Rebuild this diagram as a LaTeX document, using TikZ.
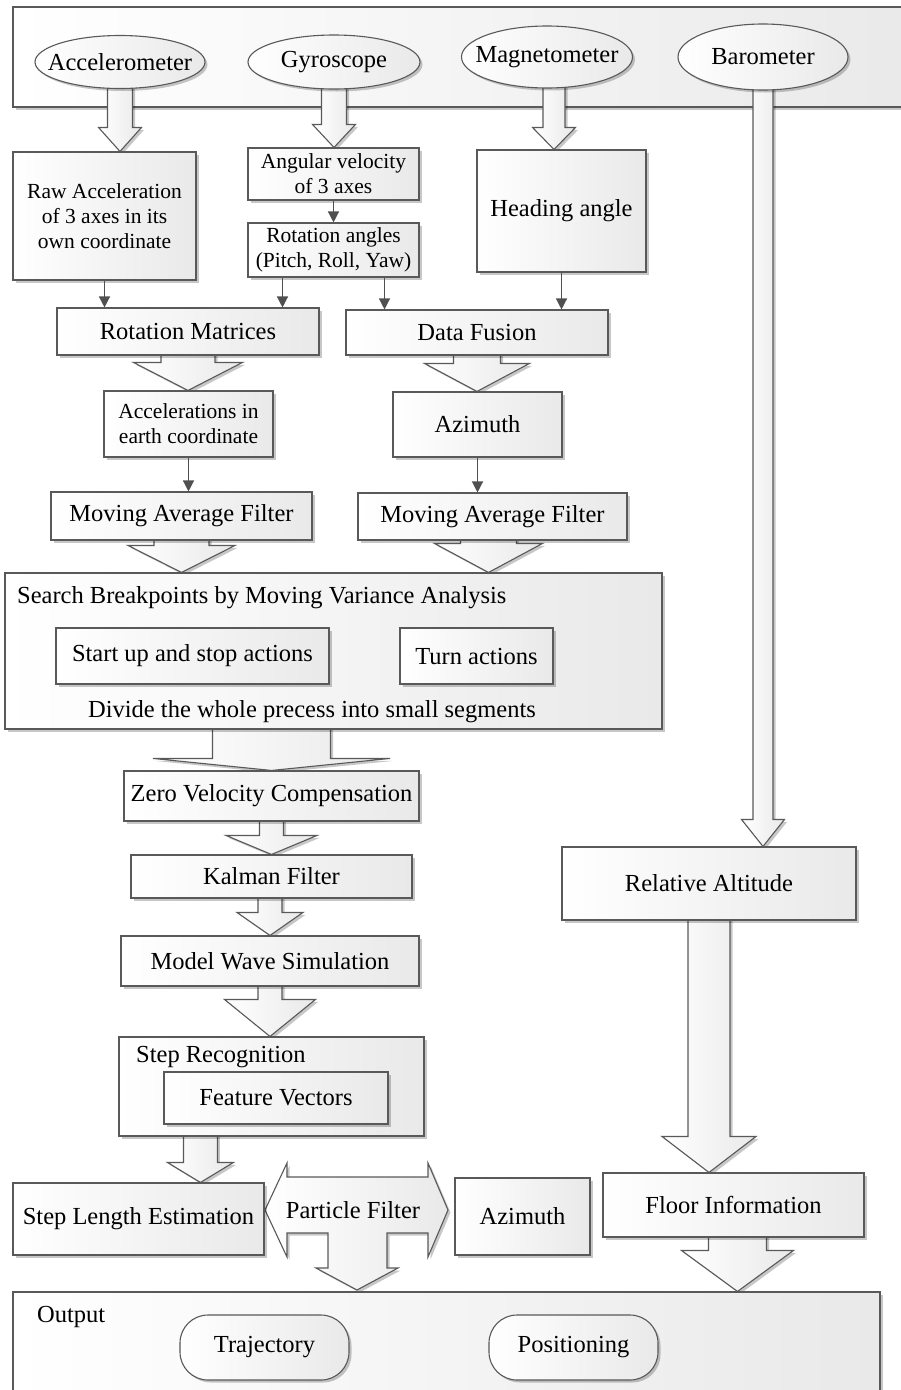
\documentclass[tikz,border=0pt]{standalone}
\usepackage{fontspec}
\setmainfont{Liberation Serif}
\usetikzlibrary{shapes.geometric,shadows,calc,arrows.meta}
\pgfdeclarelayer{bar}
\pgfdeclarelayer{arrows}
\pgfsetlayers{bar,arrows,main}
\definecolor{edgegray}{HTML}{595959}
\definecolor{fillgray}{HTML}{E9E9E9}
\definecolor{linkgray}{HTML}{505050}
\newcommand{\txtL}{\fontsize{24.5}{28}\selectfont}
\newcommand{\txtS}{\fontsize{21.5}{25}\selectfont}
\tikzset{
  panel/.style={draw=edgegray, line width=1.1pt, left color=white, right color=fillgray,
    drop shadow={shadow xshift=2.5pt, shadow yshift=-2.5pt, opacity=0.22, fill=black}},
  box/.style={panel, rectangle, inner sep=0pt, align=center, font=\txtL},
  ell/.style={panel, ellipse, inner sep=0pt},
  pill/.style={panel, rectangle, rounded corners=28pt, inner sep=0pt, font=\txtL},
  fat/.style={panel, line join=miter},
  link/.style={draw=linkgray, line width=1.3pt, -{Triangle[width=11pt,length=11pt]}},
  caption/.style={font=\txtL, inner sep=0pt},
}
% rectangle node given by its two corners: [style]{name}{x1}{y1}{x2}{y2}{text}
\newcommand{\blk}[7][box]{\node[#1, minimum width={#5-#3}, minimum height={#6-#4}] (#2) at ({(#3+#5)/2},{(#4+#6)/2}) {#7};}
% hollow downward block arrow: {from}{tip}{shaft half width}{head half width}{head length}
\newcommand{\fatdown}[5]{%
  \begin{pgfonlayer}{arrows}
  \path[fat] let \p1=(#1), \p2=(#2) in
    (\x2-#3pt,\y1) -- (\x2-#3pt,\y2+#5pt) -- (\x2-#4pt,\y2+#5pt) -- (\x2,\y2)
    -- (\x2+#4pt,\y2+#5pt) -- (\x2+#3pt,\y2+#5pt) -- (\x2+#3pt,\y1);
  \end{pgfonlayer}}
\begin{document}
\begin{tikzpicture}[x=1pt,y=-1pt]
\useasboundingbox (0,0) rectangle (900,1390);

% sensor bar
\begin{pgfonlayer}{bar}
\blk{bar}{13}{7}{930}{107}{}
\end{pgfonlayer}
\node[ell, minimum width=170, minimum height=53, label={[font=\txtL]center:Accelerometer}] (acc) at (120,62) {};
\node[ell, minimum width=172, minimum height=54, label={[font=\txtL]center:Gyroscope}] (gyro) at (334,62) {};
\node[ell, minimum width=171, minimum height=62, label={[font=\txtL]center:Magnetometer}] (mag) at (547,57) {};
\node[ell, minimum width=170, minimum height=66, label={[font=\txtL]center:Barometer}] (baro) at (763,57) {};

% first processing stage
\blk[box,font=\txtS]{raw}{13}{152}{196}{280}{Raw Acceleration\\of 3 axes in its\\own coordinate}
\blk[box,font=\txtS]{angvel}{248}{148}{419}{200}{Angular velocity\\of 3 axes}
\blk[box,font=\txtS]{rotang}{248}{223}{419}{277}{Rotation angles\\(Pitch, Roll, Yaw)}
\blk{heading}{477}{150}{646}{272}{Heading angle}
\blk{rotmat}{57}{308}{319}{355}{Rotation Matrices}
\blk{fusion}{346}{310}{608}{355}{Data Fusion}
\blk[box,font=\txtS]{accel}{104}{391}{273}{457}{Accelerations in\\earth coordinate}
\blk{azim}{393}{392}{562}{457}{Azimuth}
\blk{mafL}{51}{492}{312}{540}{Moving Average Filter}
\blk{mafR}{358}{493}{627}{540}{Moving Average Filter}

% breakpoint search
\blk{search}{5}{573}{662}{729}{}
\node[caption, anchor=west] (searchtitle) at (17,598) {Search Breakpoints by Moving Variance Analysis};
\blk{startstop}{56}{628}{329}{684}{Start up and stop actions}
\blk{turn}{400}{628}{553}{684}{Turn actions}
\node[caption] (divide) at (312,712) {Divide the whole precess into small segments};

% step chain
\blk{zvc}{124}{771}{419}{821}{Zero Velocity Compensation}
\blk{kalman}{131}{855}{412}{898}{Kalman Filter}
\blk{mws}{121}{936}{419}{986}{Model Wave Simulation}
\blk{steprec}{119}{1037}{424}{1136}{}
\node[caption, anchor=west] (steptitle) at (136,1057) {Step Recognition};
\blk{feat}{164}{1072}{388}{1124}{Feature Vectors}
\blk{steplen}{13}{1183}{264}{1255}{Step Length Estimation}
\blk{azim2}{455}{1178}{590}{1255}{Azimuth}

% altitude chain
\blk{relalt}{562}{847}{856}{920}{Relative Altitude}
\blk{floor}{603}{1173}{864}{1237}{Floor Information}

% output
\blk{output}{13}{1292}{880}{1430}{}
\node[caption, anchor=west] (outtitle) at (37,1317) {Output};
\blk[pill]{traj}{180}{1315}{349}{1380}{Trajectory}
\blk[pill]{posi}{489}{1315}{658}{1380}{Positioning}

% particle filter: left/right/down block arrow
\begin{pgfonlayer}{arrows}
\path[fat] (265,1210) -- (287,1163) -- (287,1177) -- (428,1177) -- (428,1163)
  -- (448,1210) -- (428,1257) -- (428,1233) -- (387,1233) -- (387,1268)
  -- (398,1268) -- (357,1290) -- (316,1268) -- (328,1268) -- (328,1233)
  -- (287,1233) -- (287,1257) -- cycle;
\end{pgfonlayer}
\node[caption] (pf) at (353,1210) {Particle Filter};

% block arrows
\fatdown{acc.center}{acc.center |- raw.north}{12.5}{21.5}{24}
\fatdown{gyro.center}{gyro.center |- angvel.north}{12.5}{21.5}{23}
\fatdown{mag.center}{$(mag.center |- heading.north)+(7,0)$}{11}{21.5}{22}
\fatdown{baro.center}{baro.center |- relalt.north}{10}{21.5}{27}
\fatdown{rotmat.center}{rotmat.center |- accel.north}{27}{54.5}{28}
\fatdown{fusion.center}{fusion.center |- azim.north}{23.5}{52.5}{28}
\fatdown{mafL.center}{mafL.center |- search.north}{27.5}{53.5}{27}
\fatdown{mafR.center}{$(mafR.center |- search.north)+(-4,0)$}{28}{54}{29}
\fatdown{search.center}{zvc.north}{59}{118.5}{12}
\fatdown{zvc.center}{kalman.north}{12}{45.5}{19}
\fatdown{kalman.center}{mws.north}{12}{33}{23}
\fatdown{mws.center}{mws.center |- steprec.north}{12}{45.5}{37}
\fatdown{feat.center}{$(feat.south west |- steplen.north)+(37,0)$}{17}{33}{20}
\fatdown{relalt.center}{relalt.center |- floor.north}{21}{47}{36}
\fatdown{floor.center}{$(floor.center |- output.north)+(4,0)$}{29}{56}{41}

% thin connectors
\draw[link] (raw.south) -- (raw.south |- rotmat.north);
\draw[link] (angvel.south) -- (rotang.north);
\draw[link] ($(rotang.south)+(-51,0)$) -- ($(rotang.south |- rotmat.north)+(-51,0)$);
\draw[link] ($(rotang.south)+(51,0)$) -- ($(rotang.south |- fusion.north)+(51,0)$);
\draw[link] (heading.south) -- (heading.south |- fusion.north);
\draw[link] (accel.south) -- (accel.south |- mafL.north);
\draw[link] (azim.south) -- (azim.south |- mafR.north);
\end{tikzpicture}
\end{document}
